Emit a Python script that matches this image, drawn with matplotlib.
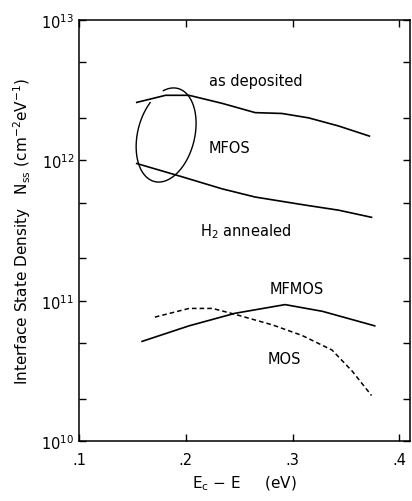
"""Interface state density vs. energy below the conduction band."""

import numpy as np
import matplotlib
matplotlib.use("Agg")
import matplotlib.pyplot as plt
from matplotlib.ticker import FixedLocator, FuncFormatter, LogLocator, NullFormatter

plt.rcParams['font.family'] = ['DejaVu Sans']

# --- data (E in eV, Nss in cm^-2 eV^-1) ---
dep_e = [0.154, 0.181, 0.203, 0.234, 0.265, 0.290, 0.315, 0.343, 0.372]
dep_n = [2.59e12, 2.91e12, 2.91e12, 2.55e12, 2.19e12, 2.16e12, 2.01e12, 1.76e12, 1.49e12]

h2_e = [0.154, 0.196, 0.234, 0.265, 0.312, 0.343, 0.374]
h2_n = [9.5e11, 7.66e11, 6.27e11, 5.48e11, 4.80e11, 4.42e11, 3.93e11]

mfmos_e = [0.159, 0.203, 0.246, 0.293, 0.328, 0.377]
mfmos_n = [5.13e10, 6.62e10, 8.13e10, 9.38e10, 8.40e10, 6.62e10]

mos_e = [0.171, 0.203, 0.225, 0.246, 0.281, 0.309, 0.337, 0.356, 0.374]
mos_n = [7.64e10, 8.81e10, 8.81e10, 8.0e10, 6.73e10, 5.65e10, 4.45e10, 3.14e10, 2.11e10]

x_ticks = [0.1, 0.2, 0.3, 0.4]

fig = plt.figure(figsize=(4.12, 5.02), dpi=100)
ax = fig.add_axes([0.192, 0.1195, 0.803, 0.8385])

ax.plot(dep_e, dep_n, color='black', lw=1.2)
ax.plot(h2_e, h2_n, color='black', lw=1.2)
ax.plot(mfmos_e, mfmos_n, color='black', lw=1.2)
ax.plot(mos_e, mos_n, color='black', lw=1.1, linestyle=(0, (3, 2)))

ax.set_yscale('log')
ax.set_xlim(0.1, 0.41)
ax.set_ylim(1e10, 1e13)

# --- MFOS ellipse (drawn in axes fraction, pixel-shaped) ---
ax_w, ax_h = 331.0, 421.0
a, b, phi = 28.5, 48.0, np.deg2rad(-14)
t = np.deg2rad(np.linspace(145, 118 + 360, 200))
u, v = a * np.cos(t), b * np.sin(t)
dx = u * np.cos(phi) - v * np.sin(phi)
dy = u * np.sin(phi) + v * np.cos(phi)
ax.plot(0.263 + dx / ax_w, 0.727 + dy / ax_h, color='black', lw=1.0,
        transform=ax.transAxes)

# --- curve labels ---
ax.text(0.266, 3.7e12, 'as deposited', ha='center', va='center', fontsize=10.5)
ax.text(0.241, 1.24e12, 'MFOS', ha='center', va='center', fontsize=10.5)
ax.text(0.256, 3.16e11, 'H$_2$ annealed', ha='center', va='center', fontsize=10.5)
ax.text(0.304, 1.23e11, 'MFMOS', ha='center', va='center', fontsize=10.5)
ax.text(0.292, 3.9e10, 'MOS', ha='center', va='center', fontsize=10.5)

# --- ticks ---
ax.xaxis.set_major_locator(FixedLocator(x_ticks))
ax.xaxis.set_major_formatter(FuncFormatter(lambda x, p: f"{x:.1f}".lstrip('0')))
ax.yaxis.set_major_locator(LogLocator(base=10, numticks=10))
ax.yaxis.set_minor_locator(LogLocator(base=10, subs=(2.0, 5.0), numticks=10))
ax.yaxis.set_minor_formatter(NullFormatter())
ax.tick_params(which='both', direction='in', top=True, right=True, labelsize=10.5)
ax.tick_params(which='major', length=5, width=1)
ax.tick_params(which='minor', length=5, width=1)
ax.tick_params(axis='x', pad=8)

for side in ['top', 'bottom', 'left', 'right']:
    ax.spines[side].set_linewidth(1.1)

ax.set_xlabel('E$_\\mathregular{c}$ $-$ E     (eV)', fontsize=11, labelpad=5)
ax.set_ylabel('Interface State Density   N$_\\mathregular{ss}$ (cm$^{-2}$eV$^{-1}$)',
              fontsize=11, labelpad=6)

fig.savefig('out.png', dpi=100)
